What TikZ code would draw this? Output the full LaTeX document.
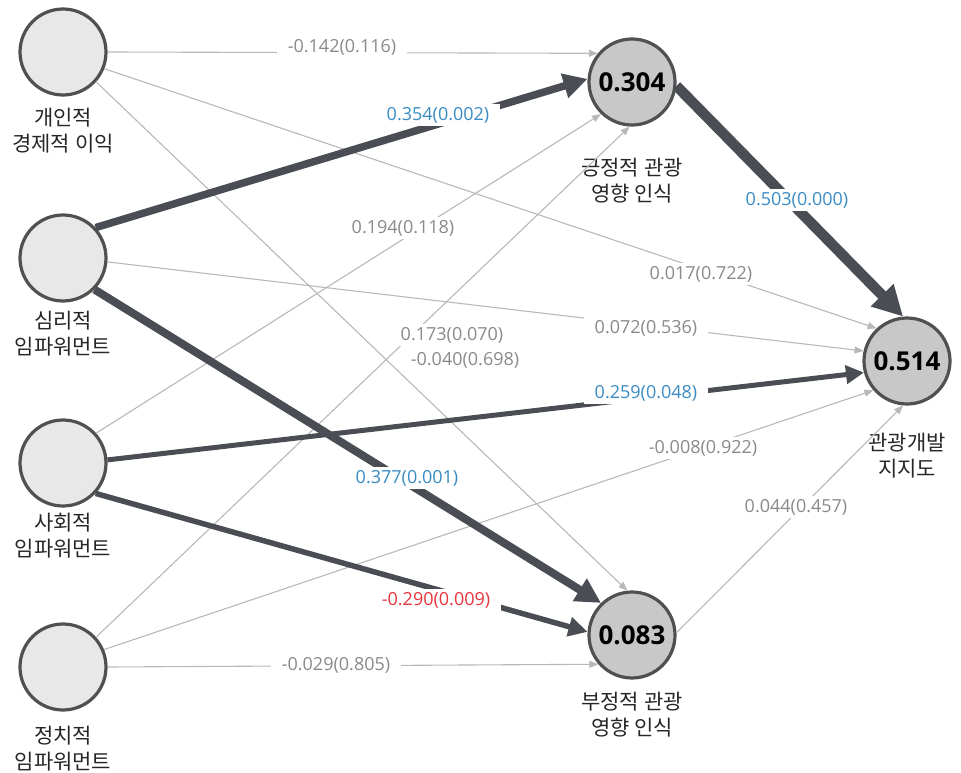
\documentclass[tikz,border=0pt]{standalone}
\usepackage{fontspec}
\setmainfont{Open Sans}
\newfontfamily\krfont{Noto Sans CJK KR}
\usepackage{tikz}
\usetikzlibrary{positioning, arrows.meta}

\definecolor{exofill}{HTML}{E8E8E8}
\definecolor{endofill}{HTML}{C8C8C8}
\definecolor{nodeline}{HTML}{505050}
\definecolor{thickline}{HTML}{4A4E54}
\definecolor{thinline}{HTML}{B8B8B8}
\definecolor{coefgray}{HTML}{8A8A8A}
\definecolor{coefblue}{HTML}{3A8CC4}
\definecolor{coefred}{HTML}{E8363C}

\tikzset{
    exo/.style={circle, draw=nodeline, line width=3.2pt, fill=exofill, minimum size=86pt, inner sep=0pt},
    endo/.style={exo, fill=endofill, font=\fontsize{26}{28}\selectfont\bfseries},
    varname/.style={align=center, text=black!85, font=\krfont\fontsize{21}{26}\selectfont},
    thinpath/.style={draw=thinline, line width=1.1pt, -{Triangle[length=9pt, width=7pt]}},
    strongpath/.style 2 args={draw=thickline, line width=#1, -{Triangle[length=#2, width=#2]}},
    coef/.style={fill=white, inner xsep=11pt, inner ysep=3pt, text=coefgray, font=\fontsize{18}{20}\selectfont},
    signif/.style={coef, text=coefblue},
    negsignif/.style={coef, text=coefred}
}

\begin{document}
\begin{tikzpicture}[x=1pt, y=-1pt]
    \useasboundingbox (0,0) rectangle (961,773);
    % constructs
    \node[exo] (econ) at (63,52) {};
    \node[exo] (psych) at (63,258) {};
    \node[exo] (social) at (63,463) {};
    \node[exo] (polit) at (63,667) {};
    \node[endo] (pos) at (632,82) {0.304};
    \node[endo] (neg) at (632,635) {0.083};
    \node[endo] (supp) at (907,361) {0.514};
    \node[varname] (econname) at (63,131) {개인적\\경제적 이익};
    \node[varname] (psychname) at (63,334) {심리적\\임파워먼트};
    \node[varname] (socialname) at (63,536) {사회적\\임파워먼트};
    \node[varname] (politname) at (63,749) {정치적\\임파워먼트};
    \node[varname] (posname) at (632,181) {긍정적 관광\\영향 인식};
    \node[varname] (negname) at (632,715) {부정적 관광\\영향 인식};
    \node[varname] (suppname) at (907,456) {관광개발\\지지도};

    % paths
    \draw[thinpath] (econ.0) -- (pos.140);
    \draw[thinpath] (econ.-22) -- (supp.133);
    \draw[thinpath] (econ.-42) -- (neg.96);
    \draw[thinpath] (psych.-5) -- (supp.167);
    \draw[thinpath] (social.42) -- (pos.-134);
    \draw[thinpath] (polit.42) -- (pos.-93);
    \draw[thinpath] (polit.23) -- (supp.-139);
    \draw[thinpath] (polit.0) -- (neg.-139);
    \draw[thinpath] (neg.3) -- (supp.-95);
    \draw[strongpath={7.5pt}{24pt}] (psych.43) -- (pos.176);
    \draw[strongpath={8pt}{25pt}] (psych.-45) -- (neg.134);
    \draw[strongpath={5pt}{18pt}] (social.4) -- (supp.195);
    \draw[strongpath={5.5pt}{19pt}] (social.-43) -- (neg.176);
    \draw[strongpath={10.5pt}{30pt}] (pos.-5) -- (supp.95);

    % coefficients
    \node[coef] (c1) at (342,47) {-0.142(0.116)};
    \node[signif] (c2) at (438,115) {0.354(0.002)};
    \node[coef] (c3) at (403,228) {0.194(0.118)};
    \node[signif] (c4) at (797,200) {0.503(0.000)};
    \node[coef] (c5) at (701,274) {0.017(0.722)};
    \node[coef] (c6) at (646,328) {0.072(0.536)};
    \node[coef] (c7) at (452,335) {0.173(0.070)};
    \node[coef] (c8) at (465,360) {-0.040(0.698)};
    \node[signif] (c9) at (646,393) {0.259(0.048)};
    \node[coef] (c10) at (703,448) {-0.008(0.922)};
    \node[signif] (c11) at (407,478) {0.377(0.001)};
    \node[coef] (c12) at (796,507) {0.044(0.457)};
    \node[negsignif] (c13) at (436,600) {-0.290(0.009)};
    \node[coef] (c14) at (336,665) {-0.029(0.805)};
\end{tikzpicture}
\end{document}
